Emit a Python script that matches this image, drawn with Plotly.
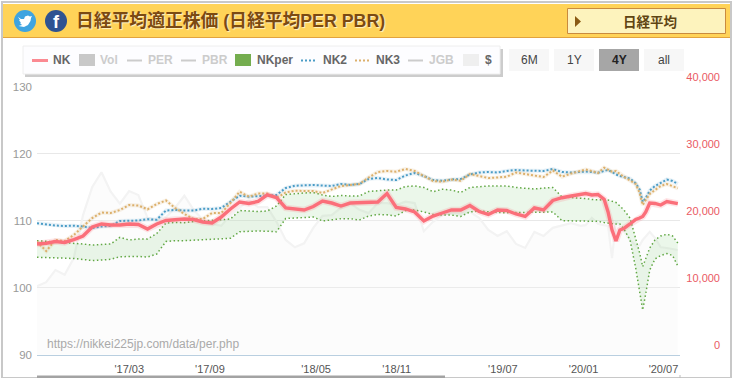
import pandas as pd
import plotly.graph_objects as go

W, H = 734, 378

# ---------- data ----------
BASE_DATES = pd.date_range("2016-08-05", periods=60, freq="21D")
TAIL_DAYS = [12, 26, 40, 54, 63, 72, 81, 90, 99, 113, 126, 135, 142, 149, 158, 170, 183, 197, 210, 222]
dates = list(BASE_DATES) + [BASE_DATES[-1] + pd.Timedelta(days=d) for d in TAIL_DAYS]

nk = [16490, 16600, 16870, 16720, 17160, 17690, 19030, 19480, 19330, 19330,
      19480, 19400, 18730, 19480, 20000, 20150, 20220, 20150, 19780, 19630,
      20520, 21720, 22760, 22540, 22840, 23810, 23430, 21870, 21720, 21570,
      22090, 22910, 22610, 22160, 22610, 22660, 22760, 22760, 24030, 21940,
      21720, 21270, 19930, 20670, 21120, 21570, 21570, 22240, 21340, 20900,
      21570, 21490, 20970, 20600, 21870, 21570, 22990, 23400, 23660, 23880,
      24030, 23810, 23880, 23160, 21270, 18580, 16940, 18580, 18810, 19480,
      20150, 20370, 20600, 21270, 22610, 22540, 22310, 22840, 22610, 22510]

nk2 = [19580, 19400, 19250, 19180, 19220, 19100, 18880, 19100, 19180, 19930,
       19930, 20000, 20180, 20120, 21490, 21570, 21490, 21490, 21760, 21720,
       21870, 22760, 23700, 23550, 23660, 23810, 23810, 24850, 25190, 25250,
       25300, 25220, 25150, 25450, 25300, 25450, 26190, 26340, 26120, 26040,
       26720, 27090, 26640, 26040, 25940, 26120, 26190, 26870, 27160, 27240,
       27160, 27390, 27540, 27460, 27390, 27390, 27690, 27240, 27160, 27240,
       27310, 27240, 27130, 27390, 27540, 27240, 26870, 26640, 26490, 26270,
       25550, 24630, 22760, 23360, 24480, 25150, 25600, 26120, 25900, 25450]

nk3 = [16840, 15450, 17090, 16940, 17840, 19180, 20370, 21190, 21120, 21570,
       22310, 22240, 21670, 22460, 22990, 21870, 20970, 20220, 20220, 21120,
       21120, 22610, 24300, 23550, 24030, 24030, 23360, 24180, 24450, 24400,
       24400, 24100, 24630, 25150, 25300, 25450, 26420, 27240, 27390, 27280,
       27690, 27390, 26640, 25900, 25790, 26120, 25940, 26940, 26640, 26340,
       26420, 26540, 27160, 26940, 26720, 26490, 27460, 26540, 27010, 27390,
       27610, 27390, 27090, 27880, 27540, 27280, 27390, 26940, 26490, 25970,
       25450, 24100, 22310, 23060, 23960, 24550, 25150, 25450, 25150, 24810]

nkper_high = [16990, 16900, 16790, 16720, 16640, 16490, 16340, 16420, 16490, 17490,
              17090, 17240, 17240, 18060, 19630, 19700, 19670, 19850, 19930, 19970,
              20070, 20220, 21490, 21420, 21340, 21420, 22160, 23880, 24030, 24100,
              24180, 23810, 23580, 23730, 23660, 23660, 24330, 24480, 24550, 24550,
              25070, 25150, 24930, 24300, 24660, 24550, 24180, 24930, 25070, 25150,
              25150, 25150, 24930, 24780, 24700, 24850, 24930, 23510, 23430, 23360,
              23280, 23130, 23060, 23060, 23060, 22910, 22690, 22160, 21570, 20370,
              17390, 15150, 13110, 14250, 15900, 17090, 17690, 17940, 17690, 16640]

nkper_low = [14510, 14480, 14400, 14360, 14330, 14180, 14030, 14100, 14210, 14600,
             14630, 14630, 14550, 15000, 16870, 16990, 16990, 17060, 17090, 17160,
             17240, 17340, 18330, 18390, 18430, 18390, 18330, 20300, 20370, 20450,
             20520, 19930, 20120, 20270, 20270, 20070, 20670, 20900, 20850, 20670,
             21460, 21570, 21270, 20900, 20820, 20820, 20600, 21270, 21420, 21270,
             21190, 21160, 21190, 21270, 21310, 21310, 21270, 19970, 19930, 19850,
             19850, 19820, 19880, 19700, 19580, 19520, 19480, 19480, 18730, 17090,
             12910, 9480, 6640, 9130, 12610, 14250, 14780, 15070, 14780, 13210]

usd = [100.2, 100.8, 102.6, 101.9, 104.4, 110.8, 115.0, 117.2, 114.3, 112.5,
       114.4, 113.8, 110.4, 110.1, 110.5, 111.9, 113.7, 111.6, 110.1, 109.5,
       109.2, 110.8, 111.9, 113.1, 112.0, 112.0, 109.8, 107.1, 106.0, 106.6,
       108.9, 110.7, 110.8, 111.9, 112.6, 111.6, 111.1, 112.6, 112.6, 112.3,
       112.8, 112.6, 108.4, 109.8, 110.8, 111.1, 111.0, 111.3, 110.4, 108.6,
       107.7, 108.4, 106.5, 105.9, 108.3, 107.7, 108.9, 109.2, 109.6, 109.2,
       109.3, 110.4, 109.5, 109.3, 109.2, 104.4, 109.9, 109.2, 108.3, 107.1,
       106.3, 106.3, 107.1, 107.7, 108.3, 107.4, 106.0, 105.9, 105.7, 105.6]

for s in (nk, nk2, nk3, nkper_high, nkper_low, usd):
    assert len(s) == len(dates), len(s)

x_tick_dates = ["2017-03-01", "2017-09-01", "2018-05-01", "2018-11-01", "2019-07-01", "2020-01-01", "2020-07-01"]
x_tick_labels = ["'17/03", "'17/09", "'18/05", "'18/11", "'19/07", "'20/01", "'20/07"]
left_ticks = [90, 100, 110, 120, 130]
right_ticks = [0, 10000, 20000, 30000, 40000]
right_labels = ["0", "10,000", "20,000", "30,000", "40,000"]

TITLE = "日経平均適正株価 (日経平均PER PBR)"
BUTTON = "日経平均"
SOURCE = "https://nikkei225jp.com/data/per.php"
RANGE_BUTTONS = ["6M", "1Y", "4Y", "all"]

# ---------- colours ----------
RED = "#fb6f7a"
BLUE = "#4a9cc6"
TAN = "#dcb06c"
GREEN = "#62a845"
FONT = "Liberation Sans, Arial, Noto Sans CJK JP, sans-serif"


def X(px):
    return px / W


def Y(py):
    return 1 - py / H


fig = go.Figure()

# USD/JPY, on the left axis
fig.add_trace(go.Scatter(x=dates, y=usd, yaxis="y", mode="lines", fill="tozeroy",
                         fillcolor="rgba(244,244,244,0.25)",
                         line=dict(color="#f3f3f3", width=2.2), hoverinfo="skip"))

# NKper band
fig.add_trace(go.Scatter(x=dates, y=nkper_low, yaxis="y2", mode="lines",
                         line=dict(color=GREEN, width=1.5, dash="1.5px,2.5px")))
fig.add_trace(go.Scatter(x=dates, y=nkper_high, yaxis="y2", mode="lines", fill="tonexty",
                         fillcolor="rgba(100,190,90,0.13)",
                         line=dict(color=GREEN, width=1.5, dash="1.5px,2.5px")))

# NK2 / NK3 with a soft halo
fig.add_trace(go.Scatter(x=dates, y=nk2, yaxis="y2", mode="lines",
                         line=dict(color="rgba(74,156,198,0.13)", width=4)))
fig.add_trace(go.Scatter(x=dates, y=nk2, yaxis="y2", mode="lines",
                         line=dict(color=BLUE, width=2, dash="2px,2px")))
fig.add_trace(go.Scatter(x=dates, y=nk3, yaxis="y2", mode="lines",
                         line=dict(color="rgba(220,176,108,0.16)", width=4)))
fig.add_trace(go.Scatter(x=dates, y=nk3, yaxis="y2", mode="lines",
                         line=dict(color=TAN, width=2, dash="2px,2px")))

# NK
fig.add_trace(go.Scatter(x=dates, y=nk, yaxis="y2", mode="lines",
                         line=dict(color="rgba(251,111,122,0.18)", width=6.5)))
fig.add_trace(go.Scatter(x=dates, y=nk, yaxis="y2", mode="lines",
                         line=dict(color=RED, width=3.4)))

shapes = []
annotations = []


def rect(x0, y0, x1, y1, fill, line=None, lw=1):
    shapes.append(dict(type="rect", xref="paper", yref="paper", layer="below",
                       x0=X(x0), x1=X(x1), y0=Y(y0), y1=Y(y1), fillcolor=fill,
                       line=dict(color=line or fill, width=lw if line else 0)))


def hline(x0, x1, y, color, lw, dash="solid"):
    shapes.append(dict(type="line", xref="paper", yref="paper", layer="above",
                       x0=X(x0), x1=X(x1), y0=Y(y), y1=Y(y), line=dict(color=color, width=lw, dash=dash)))


def circle(cx, cy, r, fill):
    shapes.append(dict(type="circle", xref="paper", yref="paper", layer="below",
                       x0=X(cx - r), x1=X(cx + r), y0=Y(cy + r), y1=Y(cy - r), fillcolor=fill,
                       line=dict(width=0)))


def poly(points, fill):
    d = "M " + " L ".join(f"{X(a):.5f},{Y(b):.5f}" for a, b in points) + " Z"
    shapes.append(dict(type="path", xref="paper", yref="paper", layer="above", path=d,
                       fillcolor=fill, line=dict(width=0)))


def text(px, py, s, size, color, anchor="left", bold=False, shadow=None):
    f = dict(family=FONT, size=size, color=color, weight="bold" if bold else "normal")
    if shadow:
        f["shadow"] = shadow
    if anchor == "left":
        px -= 2
    annotations.append(dict(xref="paper", yref="paper", x=X(px), y=Y(py), text=s, showarrow=False,
                            xanchor=anchor, yanchor="middle", font=f, align=anchor))


# page frame and header
rect(2, 2, 731, 378, "#ffffff", "#c8c8c8", 2)
rect(3, 4, 730, 37, "#ffd358")
hline(3, 730, 37.5, "#e2a33e", 1)

circle(25, 21, 11, "#3fa4e0")
circle(56, 21, 11, "#2f5391")
poly([(18, 17), (21, 19), (24, 19), (25, 16.5), (28, 15.5), (30, 16.5), (32, 16), (31, 18),
      (30.5, 21), (28, 25), (24, 27), (18.5, 26), (22, 25), (20, 23), (21, 22.5), (19, 20.5), (20, 20)], "#ffffff")
text(56, 22, "f", 18, "#ffffff", "center", True)
text(76, 21, TITLE, 17.8, "#7b4a12", "left", True, "1px 1px 1px #fff3c8")

rect(567.5, 8.5, 725.5, 33.5, "#fdf3bd", "#c98a3e", 1)
poly([(575, 16), (581, 21.5), (575, 27)], "#8a5a14")
text(650, 22, BUTTON, 13.5, "#5f4412", "center", True)

# legend box
rect(25, 49, 503, 77, "#cccccc")
rect(23, 46, 500, 74, "#fdfdff", "#eeeeee", 1)
ACTIVE = "#666666"
FADED = "#cccccc"
hline(32, 48, 60.5, "#fb8a92", 3)
text(53, 60.5, "NK", 12, ACTIVE, bold=True)
rect(79, 54, 95, 66, "#c8c8c8")
text(100, 60.5, "Vol", 12, FADED, bold=True)
hline(127, 142, 60.5, FADED, 2)
text(148, 60.5, "PER", 12, FADED, bold=True)
hline(181, 196, 60.5, FADED, 2)
text(202, 60.5, "PBR", 12, FADED, bold=True)
rect(235, 54, 251, 66, "#74ad4f")
text(257, 60.5, "NKper", 12, ACTIVE, bold=True)
hline(301, 316, 60.5, BLUE, 2, "2px,2px")
text(323, 60.5, "NK2", 12, ACTIVE, bold=True)
hline(355, 370, 60.5, TAN, 2, "2px,2px")
text(376, 60.5, "NK3", 12, ACTIVE, bold=True)
hline(408, 423, 60.5, FADED, 2)
text(429, 60.5, "JGB", 12, FADED, bold=True)
rect(463, 54, 479, 66, "#efefef")
text(485, 60.5, "$", 12, ACTIVE, bold=True)

# range buttons
for i, b in enumerate(RANGE_BUTTONS):
    x0 = 509 + 45 * i
    on = b == "4Y"
    rect(x0, 49, x0 + 40, 71, "#a6a6a6" if on else "#f7f7f7")
    text(x0 + 20, 59.5, b, 12, "#222222" if on else "#444444", "center", on)

# watermark
text(47, 344, SOURCE, 12, "#aaaaaa")

# navigator remnant at the bottom edge
rect(37, 375.5, 445, 378, "#a3a3a3")
rect(679.5, 375, 680.5, 378, "#bbbbbb")

fig.update_layout(
    template="none",
    width=W, height=H, margin=dict(l=0, r=0, t=0, b=0, pad=0), autosize=False,
    paper_bgcolor="#ffffff", plot_bgcolor="rgba(0,0,0,0)", showlegend=False,
    font=dict(family=FONT, size=11),
    shapes=shapes, annotations=annotations,
    xaxis=dict(domain=[X(37), X(680)], range=["2016-08-05", "2020-08-10"], type="date", automargin=False,
               tickvals=x_tick_dates, ticktext=x_tick_labels, showgrid=False, zeroline=False,
               showline=True, linecolor="#b9cfe0", linewidth=1, ticks="", ticklabelstandoff=4, ticklabelshift=1,
               tickfont=dict(size=11, color="#555555"), anchor="y"),
    yaxis=dict(domain=[Y(354.5), Y(86.5)], range=[90, 130], tickvals=left_ticks, showgrid=True, automargin=False,
               gridcolor="#e8e8e8", gridwidth=1, zeroline=False, ticks="", ticklabelstandoff=4,
               tickfont=dict(size=11.5, color="#999999"), anchor="x", layer="below traces"),
    yaxis2=dict(domain=[Y(354.5), Y(86.5)], range=[0, 40000], overlaying="y", side="left", automargin=False,
                anchor="free", position=X(720), tickvals=right_ticks, ticktext=right_labels,
                showgrid=False, zeroline=False, showline=False, ticks="", ticklabelshift=-9,
                tickfont=dict(size=11, color="#ea5a64")),
)

fig.write_html("out.html", config=dict(displayModeBar=False),
               post_script="document.body.style.margin='0';document.body.style.overflow='hidden';")
